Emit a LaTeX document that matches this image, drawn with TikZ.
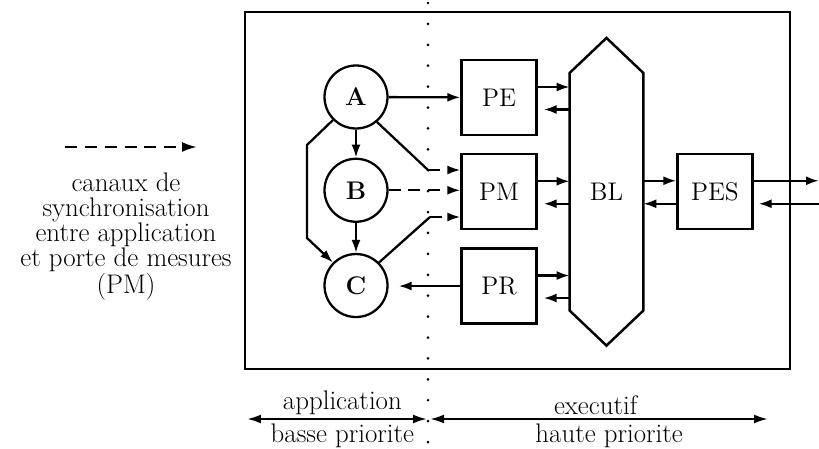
\documentclass[tikz,border=0pt]{standalone}
\usepackage{tikz}
\usetikzlibrary{arrows.meta,positioning,calc}

\begin{document}
\begin{tikzpicture}[
  x=0.02cm,y=-0.02cm,
  font=\fontsize{15.3}{14.2}\selectfont,
  proc/.style={circle,draw,line width=1.3pt,minimum size=1.26cm,inner sep=0pt,font=\fontsize{14.5}{14.2}\selectfont\bfseries},
  port/.style={rectangle,draw,line width=1.3pt,minimum width=1.5cm,minimum height=1.5cm,inner sep=0pt,font=\fontsize{14.5}{14.2}\selectfont},
  frame/.style={draw,line width=1.4pt},
  arr/.style={-{Latex[length=2.6mm,width=1.8mm]},line width=1.3pt},
  link/.style={line width=1.3pt},
  sync/.style={arr,dash pattern=on 6.8pt off 4.5pt},
  both/.style={{Latex[length=2.8mm,width=1.8mm]}-{Latex[length=2.8mm,width=1.8mm]},line width=1.3pt},
  dots/.style={line width=1.7pt,line cap=round,dash pattern=on 0pt off 11.9pt},
  node distance=0.56cm
]
\useasboundingbox (0,0) rectangle (819,449);

% cadre + separation application / executif
\draw[frame] (245,12) rectangle (790,369);
\coordinate (sep1) at (428,3);
\coordinate (sep2) at (428,445);
\draw[dots] (sep1) -- (sep2);

% processus application
\node[proc] (A) at (356,97) {A};
\node[proc,below=of A] (B) {B};
\node[proc,below=0.6cm of B] (C) {C};

% portes de l'executif
\node[port] (PE) at (499,97.5) {PE};
\node[port,below=0.34cm of PE] (PM) {PM};
\node[port,below=0.34cm of PM] (PR) {PR};
\node[minimum width=1.46cm,minimum height=4.74cm,inner sep=0pt,right=0.64cm of PM,font=\fontsize{14.5}{14.2}\selectfont] (BL) {BL};
\draw[frame] (BL.north west) -- ([yshift=0.7cm]BL.north) -- (BL.north east)
  -- (BL.south east) -- ([yshift=-0.7cm]BL.south) -- (BL.south west) -- cycle;
\node[port,right=0.66cm of BL] (PES) {PES};

% liaisons application
\coordinate (a1) at (307,145);
\coordinate (a2) at (307,238);
\coordinate (ka) at (428,170);
\coordinate (kc) at (430,217);
\draw[arr] (A) -- (PE);
\draw[arr] (A) -- (B);
\draw[arr] (B) -- (C);
\draw[arr] (A.225) -- (a1) -- (a2) -- (C.135);
\draw[link] (A.-50) -- (ka);
\draw[sync] (ka) -- (ka -| PM.west);
\draw[sync] (B.east) -- (B.east -| PM.west);
\draw[link] (C.45) -- (kc);
\draw[sync] (kc) -- (kc -| PM.west);
\draw[arr,shorten >=2mm] (PR.west) -- (PR.west -| C.east);

% liaisons avec BL
\foreach \p in {PE,PM,PR}{
  \draw[arr] ([yshift=2.1mm]\p.east) coordinate (o) -- (o -| BL.west);
  \path ([yshift=-2.4mm]\p.east) coordinate (i);
  \draw[arr,shorten >=1.2mm] (i -| BL.west) -- (i);
}
\path ([yshift=2.2mm]PES.west) coordinate (q);
\draw[arr] (q -| BL.east) -- (q);
\draw[arr] ([yshift=-2.4mm]PES.west) coordinate (r) -- (r -| BL.east);
\coordinate (rim) at (819,0);
\draw[arr] (q -| PES.east) -- (q -| rim);
\draw[arr,shorten >=1mm] (r -| rim) -- (r -| PES.east);

% legende
\coordinate (leg1) at (65,147);
\coordinate (leg2) at (197,147);
\draw[sync,-{Latex[length=3mm,width=2mm]}] (leg1) -- (leg2);
\node[align=center] (legtxt) at (126,237) {canaux de\\synchronisation\\entre application\\et porte de mesures\\(PM)};

% priorites
\coordinate (b1) at (247,419);
\coordinate (b2) at (427,419);
\coordinate (b3) at (430,419);
\coordinate (b4) at (768,419);
\draw[both] (b1) -- node[above,inner sep=2pt,pos=0.53]{application} node[below,inner sep=2pt,pos=0.53]{basse priorite} (b2);
\draw[both] (b3) -- node[above,inner sep=2pt,pos=0.49]{executif} node[below,inner sep=2pt,pos=0.53]{haute priorite} (b4);
\end{tikzpicture}
\end{document}
